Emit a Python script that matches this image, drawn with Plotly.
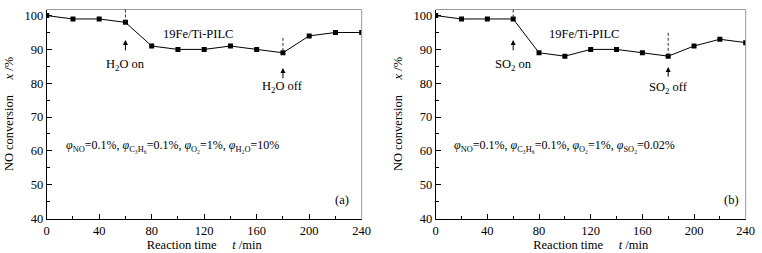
import plotly.graph_objects as go

# ---- data ----
time_min = [0, 20, 40, 60, 80, 100, 120, 140, 160, 180, 200, 220, 240]
conv_h2o = [100, 99, 99, 98, 91, 90, 90, 91, 90, 89, 94, 95, 95]
conv_so2 = [100, 99, 99, 99, 89, 88, 90, 90, 89, 88, 91, 93, 92]
x_ticks = [0, 40, 80, 120, 160, 200, 240]
y_ticks = [40, 50, 60, 70, 80, 90, 100]
event_on = 60
event_off = 180

FONT = "Liberation Serif, Times New Roman, serif"
W, H = 762, 253

fig = go.Figure()
fig.add_trace(go.Scatter(x=time_min, y=conv_h2o, mode="lines+markers",
                         line=dict(color="black", width=1),
                         marker=dict(symbol="square", size=5, color="black"),
                         xaxis="x", yaxis="y", showlegend=False))
fig.add_trace(go.Scatter(x=time_min, y=conv_so2, mode="lines+markers",
                         line=dict(color="black", width=1),
                         marker=dict(symbol="square", size=5, color="black"),
                         xaxis="x2", yaxis="y2", showlegend=False))

YMAX = 101.8
xdom1 = [46.7 / W, 361.7 / W]
xdom2 = [435.7 / W, 745.7 / W]
ydom = [1 - 218.5 / H, 1 - 9.5 / H]

def xax(dom, anchor):
    return dict(domain=dom, anchor=anchor, range=[0, 240], tickvals=x_ticks,
                automargin=False,
                ticks="inside", ticklen=5, tickwidth=1, tickcolor="black",
                showline=True, linecolor="black", linewidth=1, showgrid=False,
                zeroline=False, tickfont=dict(family=FONT, size=12.5, color="black"),
                minor=dict(dtick=20, tick0=0, ticks="inside", ticklen=3, tickcolor="black"),
                title=dict(text="Reaction time&nbsp;&nbsp;&nbsp;&nbsp;&nbsp;<i>t</i> /min",
                           font=dict(family=FONT, size=12.5, color="black"), standoff=1))

def yax(anchor):
    return dict(domain=ydom, anchor=anchor, range=[40, YMAX], tickvals=y_ticks,
                automargin=False,
                ticks="inside", ticklen=5, tickwidth=1, tickcolor="black",
                showline=True, linecolor="black", linewidth=1, showgrid=False,
                zeroline=False, tickfont=dict(family=FONT, size=12.5, color="black"),
                minor=dict(dtick=5, tick0=40, ticks="inside", ticklen=3, tickcolor="black"),
                title=dict(text="NO conversion&nbsp;&nbsp;&nbsp;&nbsp;&nbsp;<i>x</i> /%",
                           font=dict(family=FONT, size=12.5, color="black"), standoff=8))

fig.update_layout(
    width=W, height=H, margin=dict(l=0, r=0, t=0, b=0),
    paper_bgcolor="white", plot_bgcolor="white",
    xaxis=xax(xdom1, "y"), yaxis=yax("x"),
    xaxis2=xax(xdom2, "y2"), yaxis2=yax("x2"),
)

shapes = []
for xr, yr in (("x", "y"), ("x2", "y2")):
    shapes.append(dict(type="line", xref=xr + " domain", yref=yr + " domain",
                       x0=0, x1=1, y0=1, y1=1, line=dict(color="#999", width=1)))
    shapes.append(dict(type="line", xref=xr + " domain", yref=yr + " domain",
                       x0=1, x1=1, y0=0, y1=1, line=dict(color="#999", width=1)))

i_on = time_min.index(event_on)
i_off = time_min.index(event_off)
DASH = "3px,2px"
DCOL = "#333"
shapes.append(dict(type="line", xref="x", yref="y", x0=event_on, x1=event_on,
                   y0=YMAX, y1=conv_h2o[i_on], line=dict(color=DCOL, width=1, dash=DASH)))
shapes.append(dict(type="line", xref="x", yref="y", x0=event_off, x1=event_off,
                   y0=93.4, y1=conv_h2o[i_off], line=dict(color=DCOL, width=1, dash=DASH)))
shapes.append(dict(type="line", xref="x2", yref="y2", x0=event_on, x1=event_on,
                   y0=YMAX, y1=conv_so2[i_on], line=dict(color=DCOL, width=1, dash=DASH)))
shapes.append(dict(type="line", xref="x2", yref="y2", x0=event_off, x1=event_off,
                   y0=94.9, y1=conv_so2[i_off], line=dict(color=DCOL, width=1, dash=DASH)))
fig.update_layout(shapes=shapes)

ann = []

def arrow(xr, yr, x, yhead, ytail):
    ann.append(dict(xref=xr, yref=yr, axref=xr, ayref=yr, x=x, y=yhead, ax=x, ay=ytail,
                    text="", showarrow=True, arrowhead=2, arrowsize=1, arrowwidth=1,
                    arrowcolor="black"))

def txt(xr, yr, x, y, s, size=12.5, xanchor="center"):
    ann.append(dict(xref=xr, yref=yr, x=x, y=y, text=s, showarrow=False,
                    font=dict(family=FONT, size=size, color="black"), xanchor=xanchor))

# panel (a)
arrow("x", "y", event_on, 92.8, 89.3)
txt("x", "y", event_on, 85.5, "H<sub>2</sub>O on")
arrow("x", "y", event_off, 84.5, 81.0)
txt("x", "y", event_off, 79.0, "H<sub>2</sub>O off")
txt("x", "y", 115, 94.6, "19Fe/Ti-PILC")
txt("x", "y", 13, 61.5,
    "<i>φ</i><sub>NO</sub>=0.1%, <i>φ</i><sub>C₃H₆</sub>=0.1%, <i>φ</i><sub>O₂</sub>=1%, <i>φ</i><sub>H₂O</sub>=10%",
    size=12, xanchor="left")
txt("x", "y", 225, 45.5, "(a)")

# panel (b)
arrow("x2", "y2", event_on, 92.8, 89.3)
txt("x2", "y2", event_on, 85.5, "SO<sub>2</sub> on")
arrow("x2", "y2", event_off, 84.8, 81.5)
txt("x2", "y2", event_off, 78.5, "SO<sub>2</sub> off")
txt("x2", "y2", 115, 94.6, "19Fe/Ti-PILC")
txt("x2", "y2", 13, 61.5,
    "<i>φ</i><sub>NO</sub>=0.1%, <i>φ</i><sub>C₃H₆</sub>=0.1%, <i>φ</i><sub>O₂</sub>=1%, <i>φ</i><sub>SO₂</sub>=0.02%",
    size=12, xanchor="left")
txt("x2", "y2", 229, 45.5, "(b)")

fig.update_layout(annotations=ann)
fig.write_html("out.html", config={"displayModeBar": False},
               post_script="document.body.style.margin='0';document.body.style.overflow='hidden';")
